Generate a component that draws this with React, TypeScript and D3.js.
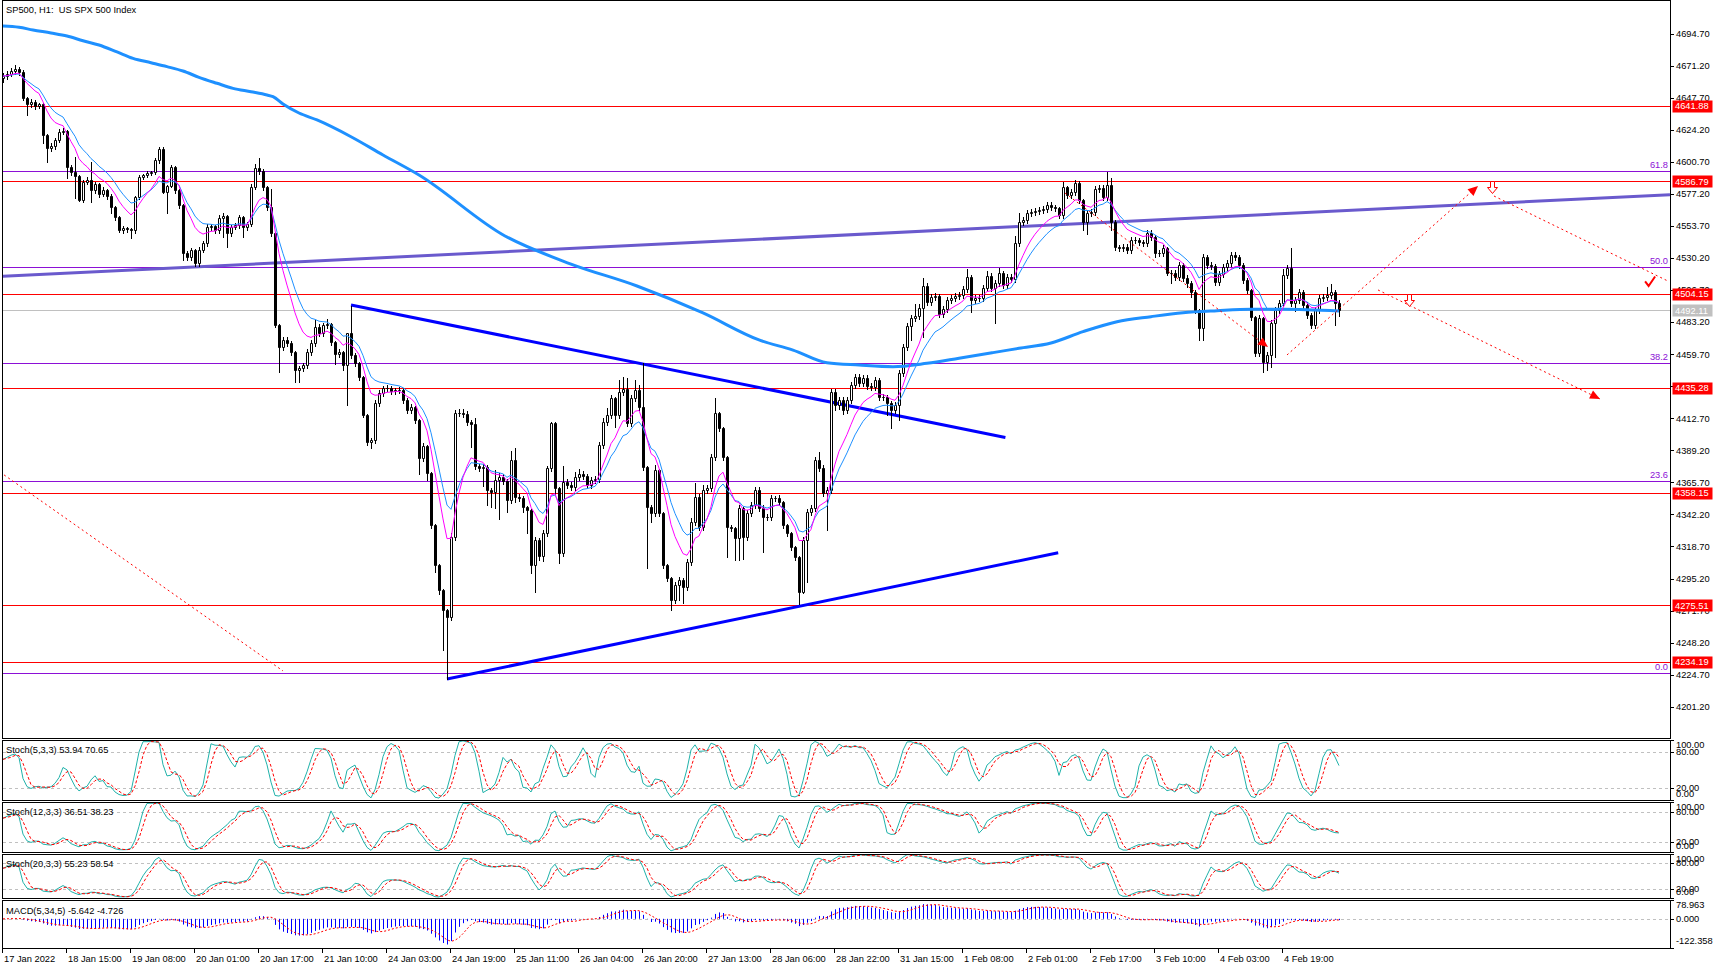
import React from 'react';
import * as d3 from 'd3';

// ---------------- DATA ----------------
const firstOpen = 4662.6;
const closes = [
  4663.8, 4665.3, 4667.5, 4669.0, 4666.8, 4647.7, 4643.3, 4644.8, 4641.8, 4643.3,
  4620.6, 4611.0, 4612.5, 4616.9, 4622.8, 4623.5, 4597.1, 4593.4, 4590.5, 4572.9,
  4586.1, 4587.6, 4580.2, 4584.6, 4577.3, 4580.2, 4575.8, 4567.7, 4560.4, 4550.9,
  4552.3, 4551.6, 4550.9, 4575.1, 4589.8, 4591.2, 4592.7, 4593.4, 4602.2, 4610.3,
  4578.7, 4583.2, 4597.1, 4580.2, 4569.2, 4534.0, 4531.1, 4536.2, 4526.7, 4536.2,
  4541.3, 4553.1, 4553.8, 4550.9, 4559.7, 4561.1, 4548.7, 4553.1, 4554.5, 4560.4,
  4553.1, 4555.3, 4582.4, 4596.4, 4594.2, 4582.4, 4567.7, 4548.7, 4481.2, 4465.0,
  4470.2, 4468.0, 4461.4, 4448.2, 4449.6, 4451.8, 4461.4, 4468.0, 4479.7, 4475.3,
  4481.2, 4481.9, 4468.7, 4459.9, 4461.4, 4451.8, 4475.3, 4459.2, 4453.3, 4443.0,
  4415.2, 4395.3, 4396.8, 4424.0, 4431.3, 4435.0, 4435.0, 4432.8, 4433.5, 4433.5,
  4426.2, 4418.8, 4421.0, 4411.5, 4383.6, 4392.4, 4372.6, 4334.5, 4305.1, 4286.8,
  4272.1, 4266.6, 4325.7, 4416.6, 4416.6, 4415.9, 4410.0, 4408.6, 4377.7, 4376.3,
  4377.0, 4360.1, 4358.7, 4367.5, 4369.7, 4366.7, 4352.8, 4382.1, 4355.0, 4354.3,
  4347.7, 4345.5, 4305.1, 4323.5, 4311.7, 4328.6, 4376.3, 4409.3, 4361.6, 4313.9,
  4366.0, 4363.8, 4362.3, 4369.7, 4371.9, 4370.4, 4363.8, 4367.5, 4368.2, 4393.1,
  4410.0, 4415.2, 4427.6, 4415.2, 4432.0, 4434.2, 4409.3, 4427.6, 4433.5, 4421.0,
  4377.0, 4347.7, 4343.3, 4374.8, 4343.3, 4305.1, 4295.6, 4279.4, 4290.4, 4294.1,
  4289.0, 4307.3, 4336.7, 4355.0, 4333.0, 4360.1, 4361.6, 4384.3, 4416.6, 4405.6,
  4384.3, 4333.0, 4332.3, 4324.9, 4346.9, 4325.7, 4343.3, 4349.1, 4360.1, 4346.9,
  4340.3, 4340.3, 4354.3, 4354.3, 4351.3, 4334.5, 4328.6, 4318.3, 4311.0, 4285.3,
  4323.5, 4344.0, 4346.9, 4382.1, 4376.3, 4357.9, 4360.1, 4432.0, 4422.5, 4426.2,
  4418.8, 4426.2, 4437.2, 4443.0, 4438.6, 4442.3, 4436.4, 4435.7, 4440.8, 4428.4,
  4428.4, 4424.0, 4418.8, 4422.5, 4446.0, 4465.0, 4480.4, 4486.3, 4487.8, 4493.6,
  4509.8, 4498.1, 4501.7, 4502.5, 4489.2, 4492.9, 4499.5, 4501.0, 4502.5, 4503.2,
  4507.6, 4516.4, 4499.5, 4501.0, 4501.0, 4508.3, 4517.1, 4508.3, 4512.0, 4519.3,
  4510.5, 4516.4, 4514.9, 4541.3, 4556.7, 4558.2, 4563.3, 4564.1, 4564.8, 4565.5,
  4566.3, 4569.2, 4567.7, 4567.0, 4561.9, 4582.4, 4576.5, 4578.7, 4585.4, 4572.9,
  4556.7, 4563.3, 4564.1, 4580.9, 4581.7, 4575.1, 4583.9, 4556.7, 4538.4, 4537.7,
  4538.4, 4536.2, 4543.5, 4543.5, 4542.1, 4541.3, 4548.7, 4545.7, 4534.0, 4534.0,
  4537.7, 4519.3, 4519.3, 4516.4, 4525.2, 4515.7, 4512.0, 4505.4, 4492.2, 4479.0,
  4531.1, 4525.2, 4524.5, 4512.7, 4518.6, 4523.7, 4526.7, 4532.5, 4531.1, 4525.2,
  4514.2, 4506.9, 4487.0, 4460.6, 4486.3, 4454.0, 4459.2, 4482.6, 4492.2, 4497.3,
  4517.9, 4523.0, 4497.3, 4499.5, 4505.4, 4495.9, 4488.5, 4481.2, 4492.2, 4501.0,
  4501.7, 4503.2, 4505.4, 4497.3, 4492.11,
];
const upperWicks = [
  2, 2, 2, 3, 1.5, 1.5, 1, 2, 1.5, 1,
  1, 1, 2, 1.5, 2, 2, 1, 1.5, 11, 1,
  1.5, 2, 13, 1.5, 1, 2, 1, 1.5, 1, 1,
  1.5, 1, 1, 1, 1.5, 1, 1.5, 1, 1.5, 1.5,
  1.5, 1, 1.5, 1, 1, 1, 1.5, 1.5, 1, 2,
  1.5, 2, 1.5, 1, 2, 2, 1, 1.5, 1.5, 1.5,
  1, 1.5, 2, 3, 7, 1.5, 1, 13, 1, 1,
  2, 2, 1.5, 1, 1.5, 1.5, 2, 2, 5, 2,
  1.5, 4, 1, 1, 2, 1, 0, 20, 1.5, 1,
  1, 1, 1.5, 2, 2, 1.5, 2, 1.5, 1.5, 2,
  1.5, 1.5, 2, 1, 1, 2, 1, 1, 1, 1,
  1, 1, 3, 2, 3, 3, 2, 1.5, 4, 1.5,
  2, 1.5, 1.5, 7, 3, 2, 1.5, 7, 9, 2,
  1.5, 1, 1, 2, 1.5, 2, 1.5, 1, 1, 1,
  12, 2, 2, 4, 4, 2, 1.5, 2, 2, 2,
  3, 5, 2, 1, 9, 9, 8, 2, 7, 4,
  32, 1, 1.5, 4, 1, 1, 1, 1, 2, 2,
  1.5, 2, 3, 10, 2, 4, 2, 2, 11, 1,
  1, 1, 1.5, 1, 2, 1, 2, 2, 2, 2,
  2, 2, 2, 1.5, 2, 1, 1, 1, 1, 1,
  2, 2, 2, 2, 6, 2, 2, 2, 2, 2,
  2, 2, 2, 2, 2, 2, 2, 2, 2, 1.5,
  2, 1.5, 1.5, 2, 2, 2, 2, 2, 9, 3,
  6, 2, 2, 2, 1.5, 2, 2, 2, 2, 2,
  2, 6, 1.5, 2, 2, 2, 4, 2, 2, 4,
  1.5, 2, 2, 5, 7, 2, 2, 2, 2, 2,
  2, 2, 2, 1.5, 1, 4, 0.5, 2, 2, 1.5,
  1, 2, 2, 2, 2, 2, 9.5, 5, 1.5, 1.5,
  2, 2, 2, 2, 1.5, 1.5, 2, 2, 1.5, 2,
  2, 1, 2, 2, 2, 1.5, 2, 1.5, 1.5, 1,
  2, 1.5, 2, 1.5, 2, 2, 2, 2, 2, 1.5,
  1.5, 1.5, 1, 1, 2, 1, 2, 2, 2, 2,
  4, 2, 15, 2, 2, 1.5, 2, 1.5, 2, 2,
  2, 6, 6, 1.5, 2,
];
const lowerWicks = [
  3, 2, 1.5, 2, 2, 1.5, 8, 2, 2, 1.5,
  6, 10, 2, 2, 1.5, 1.5, 8, 2, 16, 1,
  1.5, 1.5, 9, 2, 2, 1.5, 2, 4, 2, 1.5,
  2, 2, 6, 2, 1.5, 1.5, 1.5, 1.5, 1.5, 2,
  1, 15, 1, 2, 2, 5, 2, 2, 2, 2,
  1.5, 2, 2, 2, 2, 14, 10, 2, 1.5, 2,
  7, 2, 1.5, 1.5, 2, 2, 2, 2, 1.5, 18,
  2, 2, 2, 9, 9, 2, 2, 2, 2, 2,
  2, 2, 2, 7, 2, 4, 29, 2, 2, 2,
  1.5, 2, 4, 2, 2, 2, 2, 2, 2, 2,
  2, 2, 2, 2, 12, 2, 5, 2, 5, 3,
  29, 45, 2, 2, 2, 2, 2, 17, 2, 2,
  13, 11, 11, 12, 29, 2, 9, 2, 4, 2,
  4, 17, 6, 20, 3, 4, 2, 2, 5, 7,
  2, 2, 2, 2, 2, 2, 2, 2, 2, 2,
  2, 2, 2, 9, 2, 2, 2, 2, 2, 2,
  2, 45, 7, 2, 2, 2, 2, 7, 2, 11,
  12, 2, 2, 2, 2, 2, 2, 2, 2, 2,
  2, 22, 2, 16, 16, 16, 2, 2, 2, 2,
  26, 2, 2, 2, 2, 2, 2, 2, 2, 9,
  1, 31, 2, 2, 2, 2, 27, 2, 4, 3,
  3, 2, 2, 2, 2, 2, 2, 2, 2, 2,
  2, 9, 13, 2, 11, 2, 2, 10, 2, 2,
  21, 2, 2, 2, 2, 2, 2, 2, 2, 2,
  2, 2, 9, 2, 2, 2, 2, 2, 26, 2,
  2, 2, 2, 2, 2, 2, 2, 2, 2, 2,
  2, 2, 2, 2, 2, 2, 2, 2, 2, 2,
  6, 9, 2, 2, 2, 2, 2, 6, 2, 2,
  2, 2, 2, 2, 2, 2, 2, 2, 3, 2,
  2, 1.5, 7, 2, 2, 2, 3, 4, 2, 9,
  9, 2, 2, 2, 2, 2, 2, 2, 2, 2,
  2, 2, 2, 2, 2, 7, 6, 9, 25, 2,
  2, 2, 2, 6, 2, 2, 2, 2, 2, 2,
  2, 2, 2, 16, 4,
];

const timeLabels = [
  '17 Jan 2022', '18 Jan 15:00', '19 Jan 08:00', '20 Jan 01:00', '20 Jan 17:00', '21 Jan 10:00',
  '24 Jan 03:00', '24 Jan 19:00', '25 Jan 11:00', '26 Jan 04:00', '26 Jan 20:00', '27 Jan 13:00',
  '28 Jan 06:00', '28 Jan 22:00', '31 Jan 15:00', '1 Feb 08:00', '2 Feb 01:00', '2 Feb 17:00',
  '3 Feb 10:00', '4 Feb 03:00', '4 Feb 19:00',
];
const barsPerLabel = 16;
const priceTicks = [
  4694.7, 4671.2, 4647.7, 4624.2, 4600.7, 4577.2, 4553.7, 4530.2, 4506.7, 4483.2, 4459.7,
  4436.2, 4412.7, 4389.2, 4365.7, 4342.2, 4318.7, 4295.2, 4271.7, 4248.2, 4224.7, 4201.2,
];
const redLevels = [4641.88, 4586.79, 4504.15, 4435.28, 4358.15, 4275.51, 4234.19];
const fibLevels = [0, 23.6, 38.2, 50, 61.8];
const fibLow = 4226.1;
const fibRange = 595.2;
const lastPrice = 4492.11;

// slow moving average
const slowMaBars = [0, 4, 7.5, 12, 16, 20, 24, 28.5, 32.5, 37, 41, 45, 49, 53.5, 57.5, 62, 66, 67.5, 70, 74, 78.5, 87, 95, 104, 125.5, 142, 158.5, 175, 189, 197.5, 206, 214, 222.5, 231, 239, 247.5, 254, 262, 270, 278.5, 287, 295, 303.5, 312, 320, 334];
const slowMaValues = [4700.5, 4699.6, 4697.6, 4695.4, 4693.2, 4689.7, 4686.6, 4681.5, 4676.8, 4673.6, 4670.7, 4667.5, 4662.9, 4658.5, 4654.8, 4652.3, 4649.9, 4648.7, 4643.3, 4636.7, 4631.6, 4619.3, 4605.9, 4591.2, 4546.5, 4525.9, 4509.8, 4490.0, 4470.2, 4462.8, 4453.5, 4451.8, 4450.6, 4453.1, 4456.8, 4460.9, 4464.1, 4468.0, 4476.3, 4483.6, 4487.3, 4490.2, 4491.7, 4492.7, 4492.7, 4491.5];

const trendBars = [-0.75, 416.75];
const trendPrices = [4516.8, 4576.8];
const triUpperBars = [87, 250.6];
const triUpperPrices = [4495.9, 4398.7];
const triLowerBars = [111, 263.8];
const triLowerPrices = [4221.5, 4314.1];

const projStartBars = [-0.75, 265.5, 321, 372.75, 343.75];
const projStartPrices = [4373.3, 4578.0, 4459.2, 4575.8, 4506.9];
const projEndBars = [70, 316.25, 368.75, 416.25, 399.25];
const projEndPrices = [4227.4, 4465.0, 4583.2, 4513.4, 4426.9];
const projArrow = [false, true, true, false, true];
const downArrowBars = [351.5, 372.25];
const downArrowPrices = [4504.15, 4586.79];
const checkBar = 411.4;
const checkPrice = 4509.8;

const stochParams = [[5, 3, 3], [12, 3, 3], [20, 3, 3]];
const stochLegends = ['Stoch(5,3,3) 53.94 70.65', 'Stoch(12,3,3) 36.51 38.23', 'Stoch(20,3,3) 55.23 58.54'];
const stochTicks = [100, 80, 20, 0];
const stochLevels = [80, 20];
const macdParams = [5, 34, 5];
const macdLegend = 'MACD(5,34,5) -5.642 -4.726';
const macdTicks = [78.963, 0, -122.358];
const title = 'SP500, H1:  US SPX 500 Index';

// ---------------- HELPERS ----------------
function ema(arr: number[], n: number) {
  const a = 2 / (n + 1);
  const out: number[] = [];
  let prev = arr[0];
  arr.forEach((v, i) => {
    prev = i === 0 ? v : prev + a * (v - prev);
    out.push(prev);
  });
  return out;
}
function sma(arr: number[], n: number) {
  return arr.map((_, i) => d3.mean(arr.slice(Math.max(0, i - n + 1), i + 1)) as number);
}

const W = 1723;
const H = 969;
const LEFT = 3;
const RIGHT = 1670;
const FONT = "'Liberation Sans', Arial, sans-serif";
const FS = 9.3;

export default function App() {
  const bars = closes.map((c, i) => {
    const o = i === 0 ? firstOpen : closes[i - 1];
    return { i, o, c, h: Math.max(o, c) + upperWicks[i], l: Math.min(o, c) - lowerWicks[i] };
  });

  const x = d3.scaleLinear().domain([0, 417]).range([3, 1671]);
  const y = d3.scaleLinear().domain([4178.2, 4719.6]).range([738, 0]);
  const crisp = (v: number) => Math.round(v) + 0.5;

  const fast = ema(closes, 9);
  const mid = ema(closes, 14);
  const lineIdx = d3.line<number>().x((_, i) => x(i)).y((d) => y(d));
  const slowLine = d3
    .line<number>()
    .x((_, k) => x(slowMaBars[k]))
    .y((d) => y(d))
    .curve(d3.curveMonotoneX);

  const panels = [
    { top: 740, bottom: 800 },
    { top: 802, bottom: 852 },
    { top: 854, bottom: 898 },
  ];
  const macdPanel = { top: 900, bottom: 948 };

  const stochs = stochParams.map(([k, dd, s]) => {
    const ll = bars.map((_, i) => d3.min(bars.slice(Math.max(0, i - k + 1), i + 1), (b) => b.l) as number);
    const hh = bars.map((_, i) => d3.max(bars.slice(Math.max(0, i - k + 1), i + 1), (b) => b.h) as number);
    const main = bars.map((_, i) => {
      let num = 0;
      let den = 0;
      for (let j = Math.max(0, i - s + 1); j <= i; j++) {
        num += bars[j].c - ll[j];
        den += hh[j] - ll[j];
      }
      return den === 0 ? 50 : (num / den) * 100;
    });
    return { main, signal: sma(main, dd) };
  });

  const e5 = ema(closes, macdParams[0]);
  const e34 = ema(closes, macdParams[1]);
  const macd = closes.map((_, i) => e5[i] - e34[i]);
  const macdSig = sma(macd, macdParams[2]);
  const ym = d3.scaleLinear().domain([-122.358, 78.963]).range([macdPanel.bottom, macdPanel.top]);

  const redColor = '#ff0000';
  const fibColor = '#8c10d6';

  const arrowHead = (x0: number, y0: number, x1: number, y1: number) => {
    const ang = Math.atan2(y1 - y0, x1 - x0);
    const len = 10;
    const hw = 4.5;
    const bx = x1 - len * Math.cos(ang);
    const by = y1 - len * Math.sin(ang);
    const px = -Math.sin(ang) * hw;
    const py = Math.cos(ang) * hw;
    return `M${x1},${y1}L${bx + px},${by + py}L${bx - px},${by - py}Z`;
  };

  return (
    <svg
      width={W}
      height={H}
      style={{ position: 'absolute', left: 0, top: 0, background: '#fff' }}
      fontFamily={FONT}
      fontSize={FS}
    >
      <defs>
        <clipPath id="clipMain">
          <rect x={LEFT} y={1} width={RIGHT - LEFT} height={737} />
        </clipPath>
        {panels.map((p, k) => (
          <clipPath id={`clipS${k}`} key={k}>
            <rect x={LEFT} y={p.top + 1} width={RIGHT - LEFT} height={p.bottom - p.top - 1} />
          </clipPath>
        ))}
        <clipPath id="clipM">
          <rect x={LEFT} y={macdPanel.top + 1} width={RIGHT - LEFT} height={macdPanel.bottom - macdPanel.top - 1} />
        </clipPath>
      </defs>
      <rect x={0} y={0} width={W} height={H} fill="#fff" />

      {/* ---------- MAIN PANEL ---------- */}
      <g clipPath="url(#clipMain)">
        {fibLevels.map((f) => (
          <line key={'f' + f} x1={0} x2={RIGHT} y1={crisp(y(fibLow + (f / 100) * fibRange))} y2={crisp(y(fibLow + (f / 100) * fibRange))} stroke={fibColor} strokeWidth={1} />
        ))}
        {redLevels.map((v) => (
          <line key={'r' + v} x1={0} x2={RIGHT} y1={crisp(y(v))} y2={crisp(y(v))} stroke={redColor} strokeWidth={1} />
        ))}
        <line x1={0} x2={RIGHT} y1={crisp(y(lastPrice))} y2={crisp(y(lastPrice))} stroke="#c0c0c0" strokeWidth={1} />
        <line x1={x(trendBars[0])} x2={x(trendBars[1])} y1={y(trendPrices[0])} y2={y(trendPrices[1])} stroke="#6a5acd" strokeWidth={3} />
        <line x1={x(triUpperBars[0])} x2={x(triUpperBars[1])} y1={y(triUpperPrices[0])} y2={y(triUpperPrices[1])} stroke="#0000ff" strokeWidth={3} />
        <line x1={x(triLowerBars[0])} x2={x(triLowerBars[1])} y1={y(triLowerPrices[0])} y2={y(triLowerPrices[1])} stroke="#0000ff" strokeWidth={3} />

        {bars.map((b) => {
          const xc = Math.round(x(b.i));
          const yt = Math.round(y(Math.max(b.o, b.c)));
          const yb = Math.round(y(Math.min(b.o, b.c)));
          const bull = b.c >= b.o;
          return (
            <g key={b.i}>
              <line x1={xc + 0.5} x2={xc + 0.5} y1={Math.round(y(b.h))} y2={Math.round(y(b.l)) + 1} stroke="#000" strokeWidth={1} />
              <path d={`M${xc - 0.5},${yt + 0.5}h2v${Math.max(yb - yt, 0)}h-2Z`} fill={bull ? '#fff' : '#000'} stroke="#000" strokeWidth={1} />
            </g>
          );
        })}

        <path d={slowLine(slowMaValues) || ''} fill="none" stroke="#1e90ff" strokeWidth={3} />
        <path d={lineIdx(mid) || ''} fill="none" stroke="#1e90ff" strokeWidth={1} />
        <path d={lineIdx(fast) || ''} fill="none" stroke="#ff00ff" strokeWidth={1} />

        {projStartBars.map((sb, k) => {
          const x0 = x(sb);
          const y0 = y(projStartPrices[k]);
          const x1 = x(projEndBars[k]);
          const y1 = y(projEndPrices[k]);
          return (
            <g key={'p' + k}>
              <line x1={x0} y1={y0} x2={x1} y2={y1} stroke={redColor} strokeWidth={1} strokeDasharray="2,3" />
              {projArrow[k] && <path d={arrowHead(x0, y0, x1, y1)} fill={redColor} />}
            </g>
          );
        })}
        {downArrowBars.map((bb, k) => {
          const ax = Math.round(x(bb)) + 0.5;
          const ay = Math.round(y(downArrowPrices[k])) + 0.5;
          return (
            <path
              key={'da' + k}
              d={`M${ax - 2},${ay}H${ax + 2}V${ay + 6}H${ax + 5}L${ax},${ay + 12}L${ax - 5},${ay + 6}H${ax - 2}Z`}
              fill="#fff"
              stroke={redColor}
              strokeWidth={1}
            />
          );
        })}
        <path
          d={`M${x(checkBar) - 3.5},${y(checkPrice) - 4.5}L${x(checkBar)},${y(checkPrice)}L${x(checkBar) + 6.5},${y(checkPrice) - 9.5}`}
          fill="none"
          stroke={redColor}
          strokeWidth={2}
        />
      </g>
      {/* fib labels */}
      {fibLevels.map((f) => (
        <text key={'fl' + f} x={1668} y={y(fibLow + (f / 100) * fibRange) - 3} textAnchor="end" fill={fibColor}>
          {f.toFixed(1)}
        </text>
      ))}
      <text x={6} y={13} fill="#000" style={{ whiteSpace: 'pre' }}>
        {title}
      </text>
      <rect x={2.5} y={0.5} width={RIGHT - 2} height={738} fill="none" stroke="#000" strokeWidth={1} />

      {/* price axis */}
      {priceTicks.map((v) => (
        <g key={'pt' + v}>
          <line x1={RIGHT} x2={RIGHT + 4} y1={crisp(y(v))} y2={crisp(y(v))} stroke="#000" />
          <text x={1676} y={y(v)} dy="0.35em" fill="#000">
            {v.toFixed(2)}
          </text>
        </g>
      ))}
      {redLevels.map((v) => (
        <g key={'rl' + v}>
          <rect x={1672.5} y={Math.round(y(v)) - 5.5} width={40} height={12} fill={redColor} />
          <text x={1675} y={y(v)} dy="0.38em" fill="#fff">
            {v.toFixed(2)}
          </text>
        </g>
      ))}
      <rect x={1672.5} y={Math.round(y(lastPrice)) - 5.5} width={40} height={12} fill="#c0c0c0" />
      <text x={1675} y={y(lastPrice)} dy="0.38em" fill="#fff">
        {lastPrice.toFixed(2)}
      </text>

      {/* ---------- STOCHASTIC PANELS ---------- */}
      {panels.map((p, k) => {
        const ys = d3.scaleLinear().domain([0, 100]).range([p.bottom, p.top]);
        const st = stochs[k];
        const ln = d3.line<number>().x((_, i) => x(i)).y((d) => ys(d));
        return (
          <g key={'s' + k}>
            <g clipPath={`url(#clipS${k})`}>
              {stochLevels.map((lv) => (
                <line key={lv} x1={LEFT} x2={RIGHT} y1={crisp(ys(lv))} y2={crisp(ys(lv))} stroke="#c0c0c0" strokeDasharray="3,3" />
              ))}
              <path d={ln(st.main) || ''} fill="none" stroke="#20b2aa" strokeWidth={1} />
              <path d={ln(st.signal) || ''} fill="none" stroke={redColor} strokeWidth={1} strokeDasharray="3,2" />
            </g>
            <rect x={2.5} y={p.top + 0.5} width={RIGHT - 2} height={p.bottom - p.top} fill="none" stroke="#000" />
            <text x={6} y={p.top + 13} fill="#000">
              {stochLegends[k]}
            </text>
            {stochTicks.map((t) => {
              const yy = Math.min(Math.max(ys(t), p.top + 5), p.bottom - 6);
              return (
                <g key={t}>
                  <line x1={RIGHT} x2={RIGHT + 4} y1={crisp(ys(t))} y2={crisp(ys(t))} stroke="#000" />
                  <text x={1676} y={yy} dy="0.35em" fill="#000">
                    {t.toFixed(2)}
                  </text>
                </g>
              );
            })}
          </g>
        );
      })}

      {/* ---------- MACD ---------- */}
      <g clipPath="url(#clipM)">
        <line x1={LEFT} x2={RIGHT} y1={crisp(ym(0))} y2={crisp(ym(0))} stroke="#c0c0c0" strokeDasharray="3,3" />
        {macd.map((v, i) => (
          <line key={i} x1={Math.round(x(i)) + 0.5} x2={Math.round(x(i)) + 0.5} y1={ym(0)} y2={ym(v)} stroke="#0000ff" strokeWidth={1} />
        ))}
        <path d={d3.line<number>().x((_, i) => x(i)).y((d) => ym(d))(macdSig) || ''} fill="none" stroke={redColor} strokeWidth={1} strokeDasharray="2,2" />
      </g>
      <rect x={2.5} y={macdPanel.top + 0.5} width={RIGHT - 2} height={macdPanel.bottom - macdPanel.top} fill="none" stroke="#000" />
      <text x={6} y={macdPanel.top + 14} fill="#000">
        {macdLegend}
      </text>
      {macdTicks.map((t) => {
        const yy = Math.min(Math.max(ym(t), macdPanel.top + 5), macdPanel.bottom - 7);
        return (
          <g key={t}>
            <line x1={RIGHT} x2={RIGHT + 4} y1={crisp(ym(t))} y2={crisp(ym(t))} stroke="#000" />
            <text x={1676} y={yy} dy="0.35em" fill="#000">
              {t.toFixed(3)}
            </text>
          </g>
        );
      })}

      {/* ---------- TIME AXIS ---------- */}
      {timeLabels.map((lab, k) => {
        const xx = Math.round(x(k * barsPerLabel)) - 0.5;
        return (
          <g key={lab}>
            <line x1={xx} x2={xx} y1={948.5} y2={953} stroke="#000" />
            <text x={xx + 1.5} y={962} fill="#000">
              {lab}
            </text>
          </g>
        );
      })}
    </svg>
  );
}
